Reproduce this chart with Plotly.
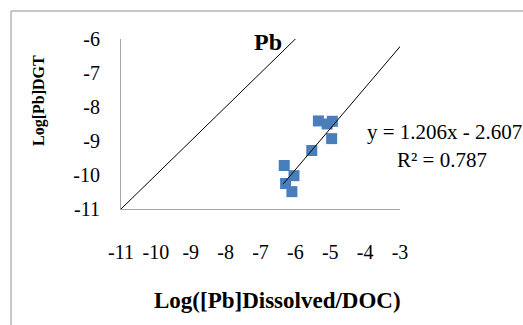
import plotly.graph_objects as go

# Data
x_vals = [-5.34, -5.09, -4.94, -4.96, -5.53, -6.32, -6.04, -6.28, -6.10]
y_vals = [-8.41, -8.50, -8.42, -8.93, -9.28, -9.72, -10.02, -10.25, -10.49]

slope = 1.206
intercept = -2.607
trend_x = [-6.35, -2.97]
trend_y = [slope * v + intercept for v in trend_x]

one_to_one = [-11, -5.88]

x_ticks = [-11, -10, -9, -8, -7, -6, -5, -4, -3]
y_ticks = [-11, -10, -9, -8, -7, -6]
x_tick_text = [str(v) for v in x_ticks]
y_tick_text = [str(v) for v in y_ticks]

FONT = "Liberation Serif, Times New Roman, serif"

# plot area in pixels
L, R, T, B = 121, 400, 39, 209


def px(xp):
    return (xp - L) / (R - L)


def py(yp):
    return (B - yp) / (B - T)


fig = go.Figure()
fig.add_trace(go.Scatter(x=one_to_one, y=one_to_one, mode="lines",
                         line=dict(color="black", width=1), cliponaxis=False,
                         showlegend=False, hoverinfo="skip"))
fig.add_trace(go.Scatter(x=x_vals, y=y_vals, mode="markers",
                         marker=dict(symbol="square", size=11, color="#4a7ebb"),
                         showlegend=False))
fig.add_trace(go.Scatter(x=trend_x, y=trend_y, mode="lines",
                         line=dict(color="black", width=1), cliponaxis=False,
                         showlegend=False, hoverinfo="skip"))

axis_common = dict(showgrid=False, zeroline=False, showline=True,
                   linecolor="#a6a6a6", linewidth=1, automargin=False,
                   ticks="outside", tickcolor="rgba(0,0,0,0)",
                   tickfont=dict(family=FONT, size=20, color="black"))


def ann(text, x, y, size, angle=0):
    return dict(text=text, x=px(x), y=py(y), xref="paper", yref="paper",
                xanchor="center", yanchor="middle", textangle=angle,
                showarrow=False, font=dict(family=FONT, size=size, color="black"))


fig.update_layout(
    width=523, height=325, autosize=False,
    margin=dict(l=L, r=523 - R, t=T, b=325 - B, pad=0),
    paper_bgcolor="white", plot_bgcolor="white",
    xaxis=dict(range=[-11, -3], tickvals=x_ticks, ticktext=x_tick_text, ticklen=25, **axis_common),
    yaxis=dict(range=[-11, -6], tickvals=y_ticks, ticktext=y_tick_text, ticklen=16, **axis_common),
    annotations=[
        ann("<b>Pb</b>", 268, 42, 24),
        ann("y = 1.206x - 2.607", 444, 132, 21),
        ann("R² = 0.787", 442, 160, 21),
        ann("<b>Log([Pb]Dissolved/DOC)</b>", 277, 300, 23),
        ann("<b>Log[Pb]DGT</b>", 39, 101, 16, -90),
    ],
    shapes=[
        dict(type="line", xref="paper", yref="paper", x0=px(11), x1=px(11), y0=py(340), y1=py(11),
             line=dict(color="#b4b4b4", width=1.5)),
        dict(type="line", xref="paper", yref="paper", x0=px(11), x1=px(540), y0=py(11), y1=py(11),
             line=dict(color="#b4b4b4", width=1.5)),
    ],
)

fig.write_html("out.html", config={"displayModeBar": False},
               post_script="document.body.style.margin='0';")
